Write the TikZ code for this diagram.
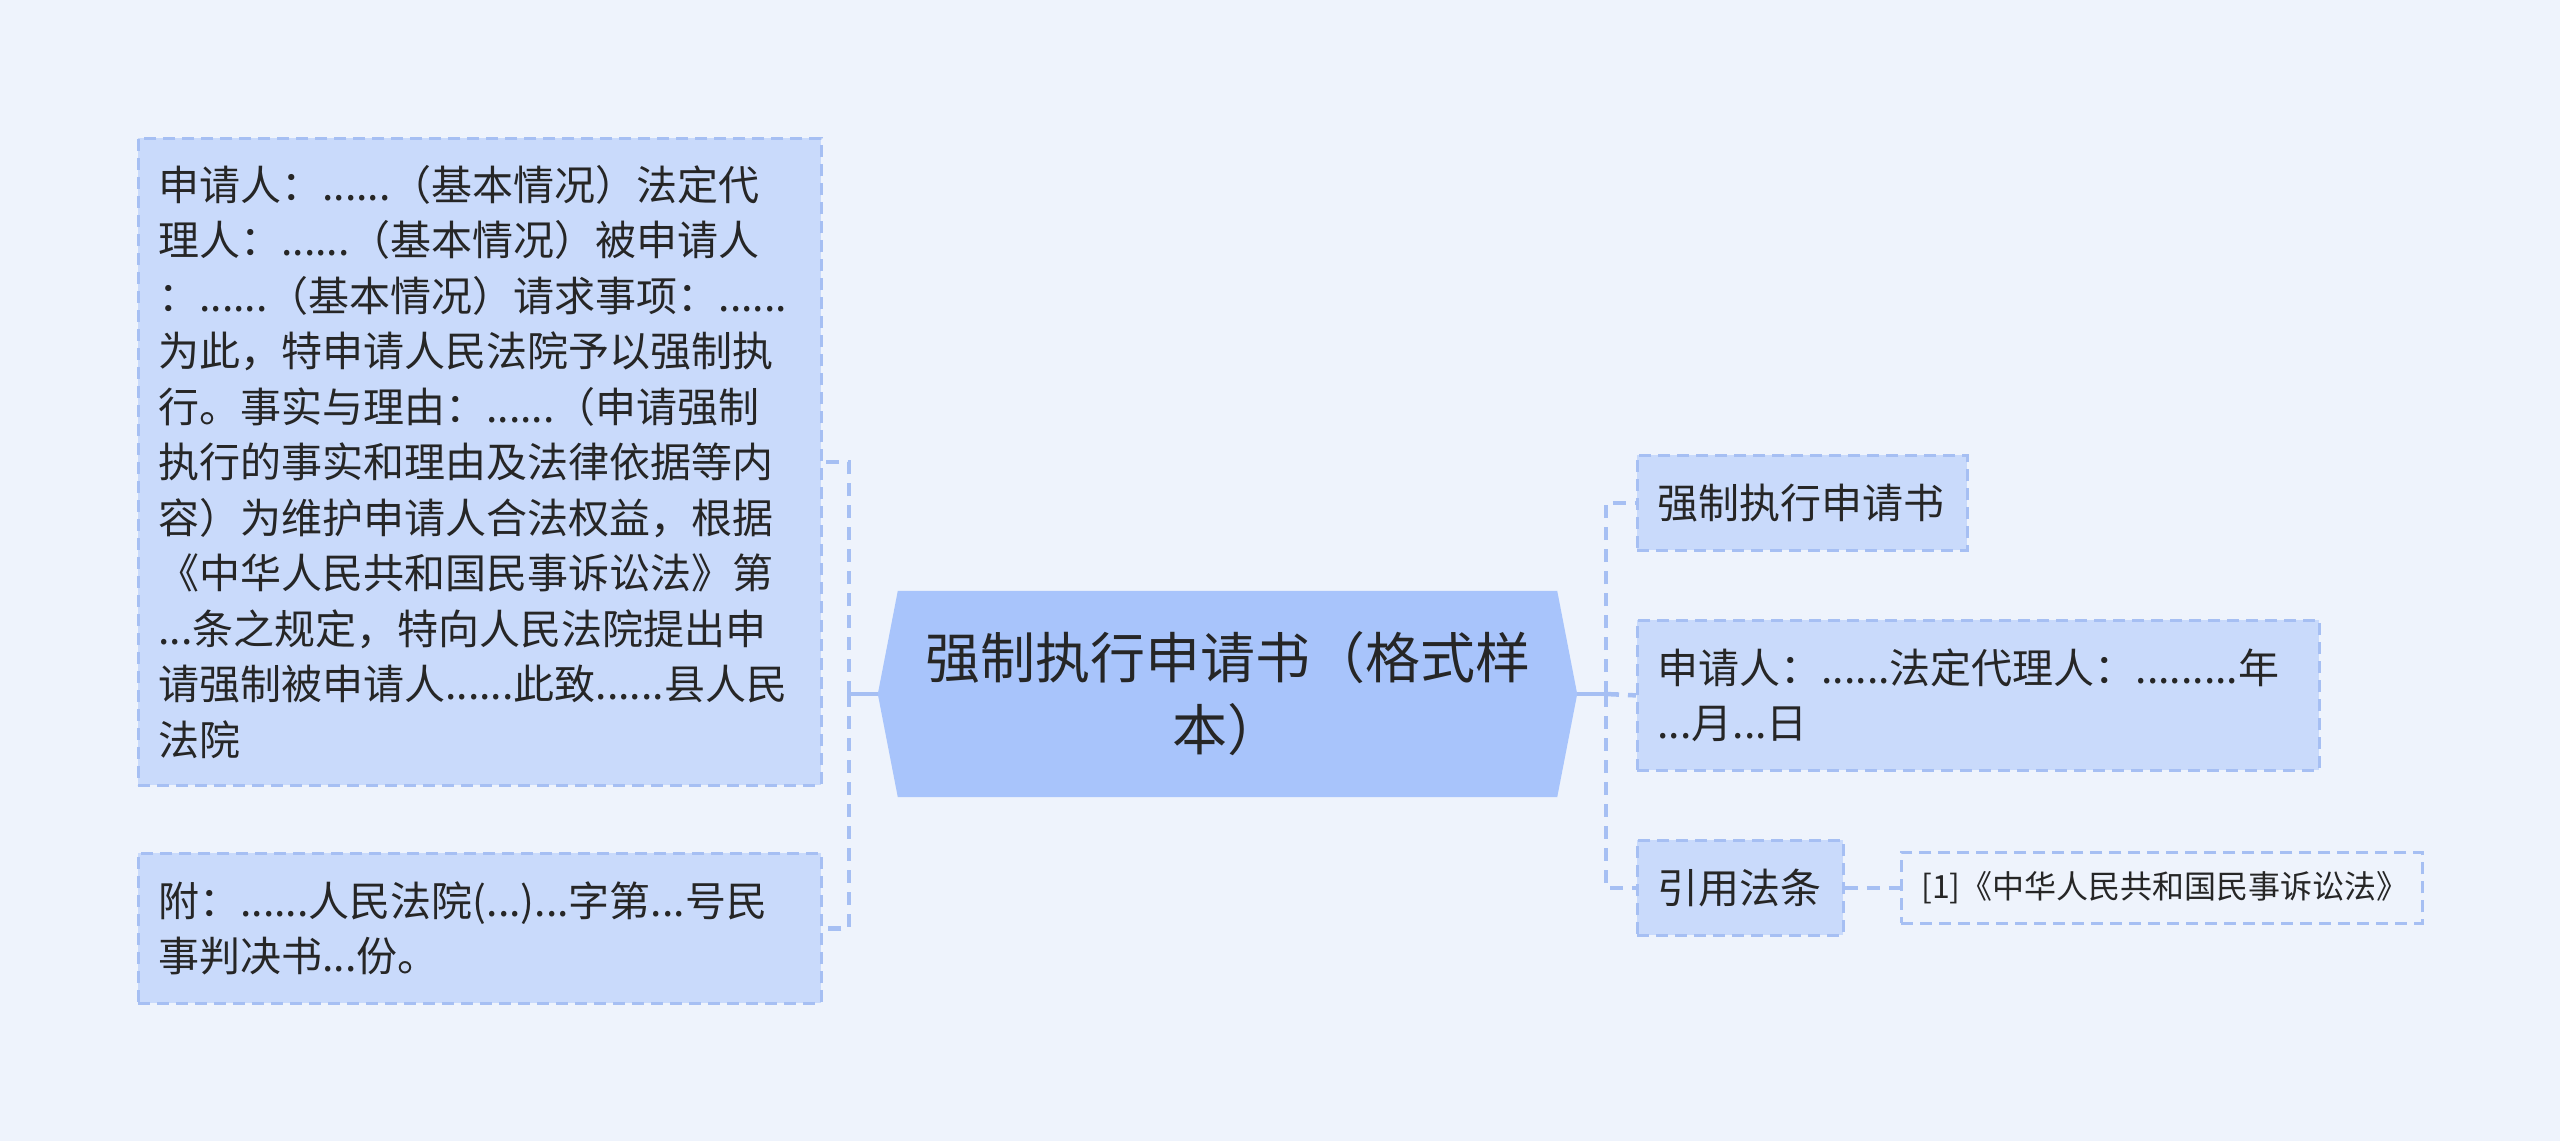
\documentclass[tikz,border=0pt]{standalone}
\usepackage{fontspec}
\setmainfont{Noto Sans CJK SC}
\definecolor{bgblue}{HTML}{EEF3FC}
\definecolor{leafblue}{HTML}{C9DAFB}
\definecolor{rootblue}{HTML}{A8C4FB}
\definecolor{edgeblue}{HTML}{A6BFF3}
\definecolor{ink}{HTML}{262626}
\pgfdeclarelayer{background}
\pgfsetlayers{background,main}

\begin{document}
\begin{tikzpicture}[x=1pt,y=-1pt]
    \tikzset{
      leaf/.style={draw=edgeblue,fill=leafblue,line width=2.8pt,
        dash pattern=on 12pt off 7pt,inner xsep=20pt,inner ysep=0pt,
        anchor=north west,align=left,text=ink,
        font=\fontsize{41}{55.5}\selectfont},
      ref/.style={leaf,fill=none,font=\fontsize{32}{44}\selectfont},
      rootbox/.style={inner sep=0pt,minimum width=699pt,minimum height=206pt,
        align=center,text=ink,font=\fontsize{55}{72}\selectfont},
      stem/.style={draw=edgeblue,line width=4.5pt},
      branch/.style={draw=edgeblue,line width=4.5pt,dash pattern=on 13pt off 9pt}
    }
    \begin{pgfonlayer}{background}
      \path[use as bounding box,fill=bgblue] (0,0) rectangle (2560,1141);
    \end{pgfonlayer}

    \node[rootbox] (root) at (1227.5,694) {强制执行申请书（格式样\\本）};
    \begin{pgfonlayer}{background}
      \fill[rootblue] (root.west) -- ([xshift=20pt]root.north west)
        -- ([xshift=-20pt]root.north east) -- (root.east)
        -- ([xshift=-20pt]root.south east) -- ([xshift=20pt]root.south west) -- cycle;
    \end{pgfonlayer}

    \node[leaf,text width=643pt,minimum height=647pt] (body) at (137,137)
      {申请人：......（基本情况）法定代\\
       理人：......（基本情况）被申请人\\
       ：......（基本情况）请求事项：......\\
       为此，特申请人民法院予以强制执\\
       行。事实与理由：......（申请强制\\
       执行的事实和理由及法律依据等内\\
       容）为维护申请人合法权益，根据\\
       《中华人民共和国民事诉讼法》第\\
       ...条之规定，特向人民法院提出申\\
       请强制被申请人......此致......县人民\\
       法院};
    \node[leaf,text width=643pt,minimum height=150pt] (annex) at (137,852)
      {附：......人民法院(...)...字第...号民\\事判决书...份。};

    \node[leaf,text width=290pt,minimum height=95pt] (title) at (1636,454) {强制执行申请书};
    \node[leaf,text width=642pt,minimum height=150pt] (sign) at (1636,619)
      {申请人：......法定代理人：.........年\\...月...日};
    \node[leaf,text width=166pt,minimum height=95pt] (law) at (1636,839) {引用法条};
    \node[ref,text width=481pt,minimum height=71pt] (lawref) at (1900,851)
      {[1]《中华人民共和国民事诉讼法》};

    \coordinate (lj) at (849,694);
    \coordinate (rj) at (1606,694);

    \draw[stem] (root.west) -- ++(-31,0);
    \draw[branch] (lj) |- (body.east);
    \draw[branch] (lj) |- (annex.east);
    \draw[stem] (root.east) -- ++(41,0);
    \draw[branch] (rj) |- (title.west);
    \draw[branch] (rj) -- (sign.west);
    \draw[branch] (rj) |- (law.west);
    \draw[branch] (law.east) -- (lawref.west);
  \end{tikzpicture}
\end{document}
